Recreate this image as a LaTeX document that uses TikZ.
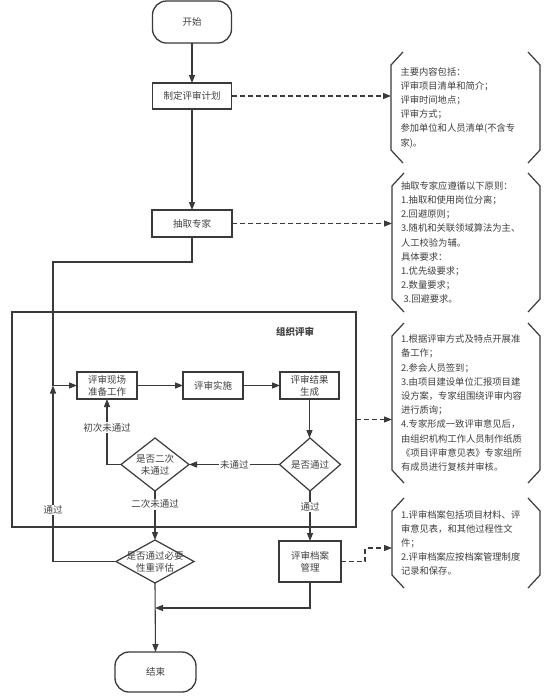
\documentclass[tikz,border=0pt]{standalone}
\usepackage{fontspec}
\setmainfont{Noto Sans CJK SC}
\usetikzlibrary{arrows.meta,shapes.geometric}
\definecolor{ln}{HTML}{3A3A3A}
\definecolor{tx}{HTML}{404040}
\tikzset{
  box/.style={draw=ln,line width=1.3pt,rectangle,inner sep=0pt,outer sep=0pt,font=\fontsize{9.5}{12}\selectfont,text=tx,align=center},
  term/.style={box,rounded corners=14pt},
  dia/.style={draw=ln,line width=1.2pt,diamond,inner sep=0pt,outer sep=0pt},
  dtext/.style={font=\fontsize{9.5}{12}\selectfont,text=tx,align=center},
  arr/.style={draw=ln,line width=1.1pt,-{Triangle[length=8pt,width=6pt]}},
  ln/.style={draw=ln,line width=1.1pt},
  darr/.style={draw=ln,line width=1.1pt,dash pattern=on 5pt off 3pt,-{Triangle[length=8pt,width=6pt]}},
  lab/.style={fill=white,inner sep=1pt,font=\fontsize{9.5}{12}\selectfont,text=tx},
  note/.style={rectangle,draw=none,inner xsep=9pt,inner ysep=0pt,outer sep=0pt,text width=130pt,align=left,font=\fontsize{9.3}{14.2}\selectfont,text=tx},
  brk/.style={draw=ln,line width=1.2pt},
}
\newcommand\mybracket[1]{%
  \draw[brk] ([xshift=12pt]#1.north west) -- ([yshift=-13pt]#1.north west) -- ([yshift=13pt]#1.south west) -- ([xshift=12pt]#1.south west);
  \draw[brk] ([xshift=-12pt]#1.north east) -- ([yshift=-13pt]#1.north east) -- ([yshift=13pt]#1.south east) -- ([xshift=-12pt]#1.south east);}
\begin{document}
\begin{tikzpicture}[x=1pt,y=-1pt]
\useasboundingbox (0,0) rectangle (554,697);
\fill[white] (0,0) rectangle (554,697);
% group box
\node[draw=ln,line width=1.2pt,minimum width=344pt,minimum height=215pt,inner sep=0pt,outer sep=0pt] (grp) at (184,419.5) {};
\node[font=\bfseries\fontsize{9.5}{12}\selectfont,text=tx] (grplab) at (295,332) {组织评审};
% main nodes
\node[term,minimum width=79pt,minimum height=42pt] (start) at (192,22) {开始};
\node[box,minimum width=79pt,minimum height=26pt] (plan) at (192,96) {制定评审计划};
\node[box,minimum width=80pt,minimum height=27pt] (expert) at (192,223.5) {抽取专家};
\node[box,minimum width=60pt,minimum height=27pt] (prep) at (107,385.5) {评审现场\\准备工作};
\node[box,minimum width=60pt,minimum height=27pt] (impl) at (213,385.5) {评审实施};
\node[box,minimum width=59pt,minimum height=27pt] (result) at (309.5,385.5) {评审结果\\生成};
\node[dia,minimum width=61pt,minimum height=53pt,label={[dtext]center:是否通过}] (d1) at (310,464.5) {};
\node[dia,minimum width=68pt,minimum height=53pt,label={[dtext]center:是否二次\\未通过}] (d2) at (155,464.5) {};
\node[dia,minimum width=78pt,minimum height=43pt,label={[dtext]center:是否通过必要\\性重评估}] (d3) at (155,561.5) {};
\node[box,minimum width=62pt,minimum height=41pt] (archive) at (310,561.5) {评审档案\\管理};
\node[term,minimum width=81pt,minimum height=40pt] (end) at (155.5,672) {结束};
% notes
\node[note,minimum width=149pt,minimum height=111pt] (b1) at (465.5,107.5) {主要内容包括：\\评审项目清单和简介；\\评审时间地点；\\评审方式；\\参加单位和人员清单(不含专\\家)。};
\node[note,minimum width=148pt,minimum height=139pt] (b2) at (466,242.5) {抽取专家应遵循以下原则：\\1.抽取和使用岗位分离；\\2.回避原则；\\3.随机和关联领域算法为主、\\人工校验为辅。\\具体要求：\\1.优先级要求；\\2.数量要求；\\\hspace*{2.5pt}3.回避要求。};
\node[note,minimum width=148pt,minimum height=160pt] (b3) at (466,403) {1.根据评审方式及特点开展准\\备工作；\\2.参会人员签到；\\3.由项目建设单位汇报项目建\\设方案，专家组围绕评审内容\\进行质询；\\4.专家形成一致评审意见后，\\由组织机构工作人员制作纸质\\《项目评审意见表》专家组所\\有成员进行复核并审核。};
\node[note,minimum width=148pt,minimum height=90pt] (b4) at (466,543) {1.评审档案包括项目材料、评\\审意见表，和其他过程性文\\件；\\2.评审档案应按档案管理制度\\记录和保存。};
\mybracket{b1}
\mybracket{b2}
\mybracket{b3}
\mybracket{b4}
% coordinates
\coordinate (jt) at (53,262);
\coordinate (jn) at (53,385.5);
\coordinate (mj) at (155,608);
% connectors
\draw[arr] (start) -- (plan);
\draw[arr] (plan) -- (expert);
\draw[ln] (expert.south) |- (jt) -- (jn);
\draw[arr] (jn) -- (prep.west);
\draw[arr] (prep) -- (impl);
\draw[arr] (impl) -- (result);
\draw[arr] (result.south) -- (result.south |- d1.north);
\draw[arr] (d1.west) -- node[lab]{未通过} (d2.east);
\draw[arr] (d2.west) -| node[lab,pos=0.78]{初次未通过} (prep.south);
\draw[arr] (d2.south) -- node[lab,pos=0.27]{二次未通过} (d3.north);
\draw[arr] (d1.south) -- node[lab,pos=0.32]{通过} (archive.north);
\draw[arr] (d3.west) -| node[lab,pos=0.646]{通过} (jn);
\draw[arr] (archive.south) |- (mj);
\draw[arr] (d3.south) -- (end.north);
% dashed
\draw[darr] (plan.east) -- (plan.east -| b1.west);
\draw[darr] (expert.east) -- (expert.east -| b2.west);
\draw[darr] (grp.east) -- (grp.east -| b3.west);
\draw[darr] (archive.east) -- ++(24pt,0) |- ([yshift=-5pt]b4.west);
\end{tikzpicture}
\end{document}
